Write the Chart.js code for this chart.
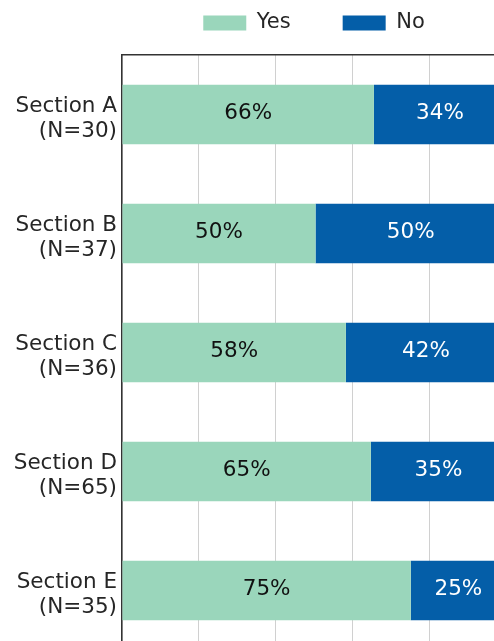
<!DOCTYPE html>
<html>
<head>
<meta charset="utf-8">
<script src="https://cdn.jsdelivr.net/npm/chart.js@4/dist/chart.umd.min.js"></script>
<style>
  html, body { margin: 0; padding: 0; overflow: hidden; background: #ffffff; }
  canvas { display: block; }
</style>
</head>
<body>
<canvas id="c" width="506" height="680"></canvas>
<script>
// ---- data ----
const categories = [["Section A", "(N=30)"], ["Section B", "(N=37)"], ["Section C", "(N=36)"], ["Section D", "(N=65)"], ["Section E", "(N=35)"]];
const seriesNames = ["Yes", "No"];
const yesValues = [65.6, 50.4, 58.3, 64.8, 75.2];
const noValues = [34.4, 49.6, 41.7, 35.2, 24.8];
const xTicks = [0, 20, 40, 60, 80, 100];

const FONT = "'DejaVu Sans', sans-serif";

const valueLabels = {
  id: 'valueLabels',
  afterDatasetsDraw(chart) {
    const ctx = chart.ctx;
    ctx.save();
    ctx.font = "21.5px 'DejaVu Sans'";
    ctx.textAlign = 'center';
    ctx.textBaseline = 'middle';
    chart.data.datasets.forEach((ds, di) => {
      const meta = chart.getDatasetMeta(di);
      meta.data.forEach((bar, i) => {
        const p = bar.getCenterPoint();
        ctx.fillStyle = di === 0 ? '#111111' : '#ffffff';
        ctx.fillText(Math.round(ds.data[i]) + '%', p.x, p.y - 1.5);
      });
    });
    ctx.restore();
  }
};

new Chart(document.getElementById('c'), {
  type: 'bar',
  data: {
    labels: categories,
    datasets: [
      { label: seriesNames[0], data: yesValues, backgroundColor: '#9ad6bb', borderWidth: 0 },
      { label: seriesNames[1], data: noValues, backgroundColor: '#045ea8', borderWidth: 0 }
    ]
  },
  options: {
    indexAxis: 'y',
    responsive: false,
    animation: false,
    devicePixelRatio: 1,
    layout: { padding: { top: -39.5, left: 0, right: 0, bottom: 11 } },
    datasets: { bar: { barPercentage: 0.5, categoryPercentage: 1.0 } },
    plugins: {
      tooltip: { enabled: false },
      legend: {
        position: 'top',
        align: 'center',
        fullSize: false,
        labels: {
          boxWidth: 43,
          boxHeight: 15,
          padding: 52,
          color: '#262626',
          font: { family: FONT, size: 21 }
        }
      }
    },
    scales: {
      x: {
        type: 'linear',
        stacked: true,
        min: 0,
        max: 100,
        afterBuildTicks: (s) => { s.ticks = xTicks.map(v => ({ value: v })); },
        ticks: { display: false },
        grid: { color: '#d0d0d0', lineWidth: 1, drawTicks: false },
        border: { display: false }
      },
      x2: {
        type: 'linear',
        position: 'top',
        min: 0,
        max: 100,
        ticks: { display: false },
        grid: { display: true, drawOnChartArea: false, drawTicks: true, tickLength: 11.5, tickColor: 'rgba(0,0,0,0)', color: 'rgba(0,0,0,0)' },
        border: { display: true, color: '#333333', width: 1.5 }
      },
      y: {
        stacked: true,
        afterFit: (s) => { s.width = 122; },
        ticks: {
          color: '#262626',
          padding: 5,
          labelOffset: 4,
          font: { family: FONT, size: 21.5, lineHeight: 1.16 }
        },
        grid: { display: false, drawTicks: false },
        border: { display: true, color: '#333333', width: 1.5 }
      }
    }
  },
  plugins: [valueLabels]
});
</script>
</body>
</html>
